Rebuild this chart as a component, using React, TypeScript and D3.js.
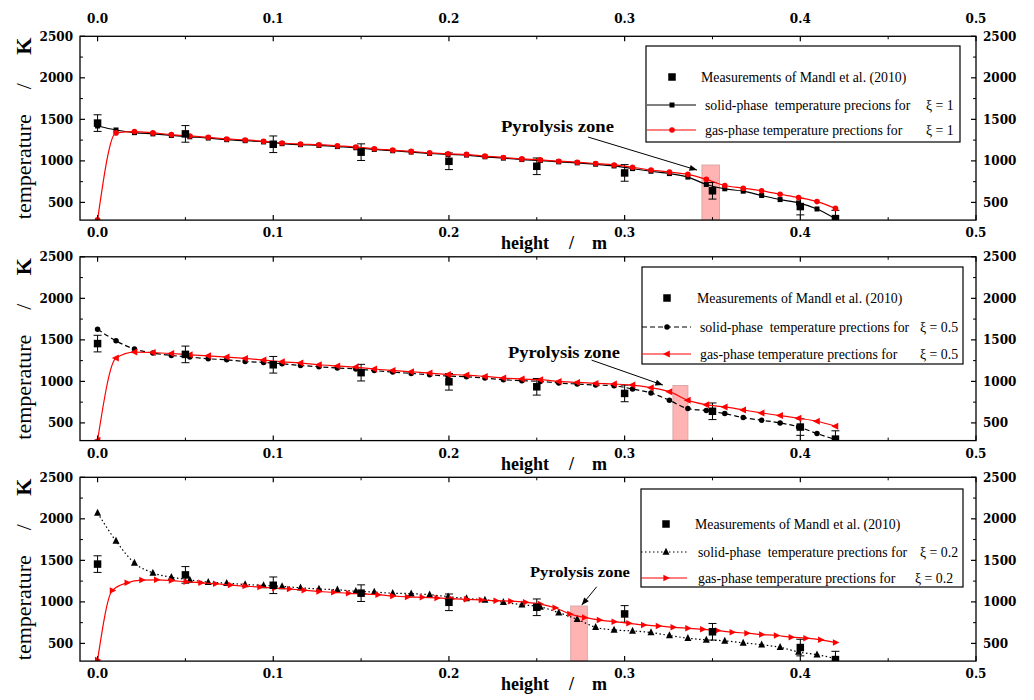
import React from 'react';
import * as d3 from 'd3';

// ---------------- DATA ----------------
// simulation grid for most series (41 points)
const gridA = [0, 0.0105, 0.021, 0.0315, 0.042, 0.0525, 0.063, 0.0735, 0.084, 0.0945, 0.105, 0.1155, 0.126, 0.1365, 0.147, 0.1575, 0.168, 0.1785, 0.189, 0.1995, 0.21, 0.2205, 0.231, 0.2415, 0.252, 0.2625, 0.273, 0.2835, 0.294, 0.3045, 0.315, 0.3255, 0.336, 0.3465, 0.357, 0.3675, 0.378, 0.3885, 0.399, 0.4095, 0.42];
// finer grid for the gas phase of xi = 0.2 (51 points)
const gridB = [0, 0.0084, 0.0168, 0.0252, 0.0336, 0.042, 0.0504, 0.0588, 0.0672, 0.0756, 0.084, 0.0924, 0.1008, 0.1092, 0.1176, 0.126, 0.1344, 0.1428, 0.1512, 0.1596, 0.168, 0.1764, 0.1848, 0.1932, 0.2016, 0.21, 0.2184, 0.2268, 0.2352, 0.2436, 0.252, 0.2604, 0.2688, 0.2772, 0.2856, 0.294, 0.3024, 0.3108, 0.3192, 0.3276, 0.336, 0.3444, 0.3528, 0.3612, 0.3696, 0.378, 0.3864, 0.3948, 0.4032, 0.4116, 0.42];

const measX = [0, 0.05, 0.1, 0.15, 0.2, 0.25, 0.3, 0.35, 0.4, 0.42];
const measT = [1455, 1325, 1200, 1105, 995, 935, 855, 640, 450, 305];
const measErr = [100, 100, 100, 100, 100, 100, 100, 100, 100, 100];

const solidXi1 = [1420, 1372, 1340, 1325, 1306, 1290, 1275, 1255, 1243, 1228, 1207, 1195, 1186, 1172, 1158, 1138, 1122, 1106, 1089, 1077, 1070, 1049, 1033, 1016, 1004, 988, 976, 960, 939, 907, 875, 847, 805, 716, 664, 635, 583, 534, 494, 421, 303];
const gasXi1 = [290, 1337, 1353, 1337, 1316, 1300, 1284, 1264, 1252, 1236, 1215, 1203, 1195, 1181, 1167, 1146, 1130, 1114, 1097, 1085, 1078, 1057, 1041, 1024, 1012, 996, 984, 968, 951, 923, 890, 866, 838, 777, 704, 671, 640, 598, 558, 510, 428];

const solidXi05 = [1629, 1488, 1389, 1341, 1312, 1293, 1272, 1260, 1240, 1228, 1212, 1192, 1176, 1161, 1150, 1130, 1112, 1096, 1080, 1064, 1056, 1040, 1020, 1008, 1000, 980, 968, 956, 948, 908, 860, 772, 672, 648, 612, 564, 532, 500, 452, 372, 300];
const gasXi05 = [290, 1281, 1353, 1348, 1336, 1320, 1308, 1293, 1276, 1257, 1236, 1221, 1200, 1186, 1172, 1149, 1132, 1116, 1100, 1084, 1076, 1060, 1040, 1028, 1020, 1000, 988, 976, 968, 956, 924, 876, 772, 720, 692, 656, 620, 588, 556, 520, 460];

const solidXi02 = [2071, 1733, 1468, 1349, 1297, 1265, 1238, 1226, 1209, 1198, 1186, 1170, 1155, 1146, 1128, 1119, 1104, 1100, 1087, 1063, 1040, 1024, 996, 966, 940, 870, 790, 694, 662, 650, 631, 595, 563, 543, 531, 507, 484, 453, 397, 365, 317];
const gasXi02 = [300, 1138, 1230, 1262, 1265, 1257, 1242, 1230, 1218, 1202, 1190, 1178, 1167, 1155, 1140, 1125, 1115, 1103, 1097, 1087, 1071, 1060, 1055, 1048, 1039, 1031, 1024, 1014, 1008, 996, 974, 929, 855, 813, 781, 762, 742, 722, 710, 694, 682, 670, 655, 635, 623, 607, 595, 575, 563, 543, 510];

const xMajor = [0, 0.1, 0.2, 0.3, 0.4, 0.5];
const xMinor = [0.05, 0.15, 0.25, 0.35, 0.45];
const yMajor = [500, 1000, 1500, 2000, 2500];
const yMinor = [750, 1250, 1750, 2250];

const xiLabels = ['ξ = 1', 'ξ = 0.5', 'ξ = 0.2'];
const solidTexts = ['solid-phase  temperature precions for', 'solid-phase  temperature prections for', 'solid-phase  temperature prections for'];
const gasText = 'gas-phase temperature prections for';
const measText = 'Measurements of Mandl et al. (2010)';
const zoneText = 'Pyrolysis zone';
// pyrolysis zone extents (height, m) and top temperature
const zones = [[0.344, 0.354], [0.3275, 0.336], [0.2693, 0.2788]];
const zoneTop = 950;

// ---------------- LAYOUT ----------------
const W = 1034, H = 700;
const LEFT = 80, RIGHT = 976;
const TOPS = [36.3, 256.8, 477.3];
const PH = 183.8;
const YMIN = 287, YMAX = 2500;

const xScale = d3.scaleLinear().domain([-0.01, 0.5]).range([LEFT, RIGHT]);

type Series = { x: number[]; y: number[]; color: string; dash?: string; marker: string; size: number };

const panels = [
  {
    solid: { x: gridA, y: solidXi1, color: '#000', marker: 'square', size: 5 } as Series,
    gas: { x: gridA, y: gasXi1, color: '#ff0000', marker: 'circle', size: 5.6 } as Series,
    legend: { x0: 646, y0: 46, x1: 960, y1: 142, rows: [77, 105, 130], mx: 672, lx0: 647, lx1: 696, t1: 701, t2: 705, xi: [926, 926] },
    ann: { tx: 0.2296, tT: 1347, tw: 113, fs: 17, a0: [0.2792, 1287], a1: [0.3412, 889] },
  },
  {
    solid: { x: gridA, y: solidXi05, color: '#000', dash: '5,3', marker: 'circle', size: 5.5 } as Series,
    gas: { x: gridA, y: gasXi05, color: '#ff0000', marker: 'triLeft', size: 7 } as Series,
    legend: { x0: 642, y0: 267, x1: 963, y1: 364, rows: [298, 327, 354], mx: 667, lx0: 642, lx1: 691, t1: 697, t2: 700, xi: [920, 920] },
    ann: { tx: 0.2336, tT: 1281, tw: 112, fs: 17, a0: [0.2812, 1256], a1: [0.3218, 955] },
  },
  {
    solid: { x: gridA, y: solidXi02, color: '#000', dash: '1.5,2.5', marker: 'triUp', size: 7 } as Series,
    gas: { x: gridB, y: gasXi02, color: '#ff0000', marker: 'triRight', size: 6.5 } as Series,
    legend: { x0: 641, y0: 489, x1: 963, y1: 587, rows: [524, 552, 578], mx: 666, lx0: 641, lx1: 687, t1: 695, t2: 698, xi: [920, 915] },
    ann: { tx: 0.2461, tT: 1299, tw: 100, fs: 15.5, a0: [0.2841, 1182], a1: [0.2756, 961] },
  },
];

const TICK_FONT = "'DejaVu Serif', serif";
const TEXT_FONT = "'Liberation Serif', 'Times New Roman', serif";

function Marker({ type, x, y, size, fill }: { type: string; x: number; y: number; size: number; fill: string }) {
  const s = size;
  switch (type) {
    case 'square':
      return <rect x={x - s / 2} y={y - s / 2} width={s} height={s} fill={fill} />;
    case 'circle':
      return <circle cx={x} cy={y} r={s / 2} fill={fill} />;
    case 'triUp':
      return <polygon points={`${x},${y - s * 0.6} ${x + s / 2},${y + s * 0.4} ${x - s / 2},${y + s * 0.4}`} fill={fill} />;
    case 'triLeft':
      return <polygon points={`${x - s * 0.6},${y} ${x + s * 0.4},${y - s / 2} ${x + s * 0.4},${y + s / 2}`} fill={fill} />;
    case 'triRight':
      return <polygon points={`${x + s * 0.6},${y} ${x - s * 0.4},${y - s / 2} ${x - s * 0.4},${y + s / 2}`} fill={fill} />;
    default:
      return null;
  }
}

function Panel({ idx }: { idx: number }) {
  const p = panels[idx];
  const top = TOPS[idx];
  const bottom = top + PH;
  const yScale = d3.scaleLinear().domain([YMIN, YMAX]).range([bottom, top]);
  const line = d3
    .line<[number, number]>()
    .x((d) => xScale(d[0]))
    .y((d) => yScale(d[1]))
    .curve(d3.curveMonotoneX);
  const clipId = `clip${idx}`;
  const seriesEls = (s: Series, key: string) => {
    const pts: [number, number][] = s.x.map((xv, i) => [xv, s.y[i]]);
    return (
      <g key={key}>
        <path d={line(pts) || ''} fill="none" stroke={s.color} strokeWidth={1.2} strokeDasharray={s.dash} />
        {pts.map((d, i) => (
          <Marker key={i} type={s.marker} x={xScale(d[0])} y={yScale(d[1])} size={s.size} fill={s.color} />
        ))}
      </g>
    );
  };
  const z = zones[idx];
  const a = p.ann;
  const L = p.legend;
  const yLabelMid = top + PH / 2;
  return (
    <g>
      <defs>
        <clipPath id={clipId}>
          <rect x={LEFT} y={top} width={RIGHT - LEFT} height={PH} />
        </clipPath>
      </defs>
      <g clipPath={`url(#${clipId})`}>
        <rect
          x={xScale(z[0])}
          y={yScale(zoneTop)}
          width={xScale(z[1]) - xScale(z[0])}
          height={bottom - yScale(zoneTop)}
          fill="#ffb3b3"
          stroke="#d9a9a9"
          strokeWidth={1}
        />
        {/* measurements with error bars */}
        {measX.map((xv, i) => {
          const cx = xScale(xv);
          const y0 = yScale(measT[i] - measErr[i]);
          const y1 = yScale(measT[i] + measErr[i]);
          return (
            <g key={'m' + i}>
              <line x1={cx} x2={cx} y1={y0} y2={y1} stroke="#000" strokeWidth={1} />
              <line x1={cx - 4} x2={cx + 4} y1={y0} y2={y0} stroke="#000" strokeWidth={1} />
              <line x1={cx - 4} x2={cx + 4} y1={y1} y2={y1} stroke="#000" strokeWidth={1} />
            </g>
          );
        })}
        {seriesEls(p.solid, 'solid')}
        {seriesEls(p.gas, 'gas')}
        {measX.map((xv, i) => (
          <Marker key={'ms' + i} type="square" x={xScale(xv)} y={yScale(measT[i])} size={7.5} fill="#000" />
        ))}
      </g>

      {/* annotation */}
      <text
        x={xScale(a.tx)}
        y={yScale(a.tT)}
        fontFamily={TEXT_FONT}
        fontWeight="bold"
        fontSize={a.fs}
        textLength={a.tw}
        lengthAdjust="spacingAndGlyphs"
      >
        {zoneText}
      </text>
      <line
        x1={xScale(a.a0[0])}
        y1={yScale(a.a0[1])}
        x2={xScale(a.a1[0])}
        y2={yScale(a.a1[1])}
        stroke="#000"
        strokeWidth={1}
        markerEnd="url(#arrow)"
      />

      {/* frame */}
      <rect x={LEFT} y={top} width={RIGHT - LEFT} height={PH} fill="none" stroke="#000" strokeWidth={1.3} />
      {/* x ticks */}
      {xMajor.map((v) => (
        <g key={'xM' + v}>
          <line x1={xScale(v)} x2={xScale(v)} y1={bottom} y2={bottom - 5} stroke="#000" strokeWidth={1.2} />
          <line x1={xScale(v)} x2={xScale(v)} y1={top} y2={top + 5} stroke="#000" strokeWidth={1.2} />
          <text x={xScale(v)} y={bottom + 17} textAnchor="middle" fontFamily={TICK_FONT} fontWeight="bold" fontSize={12}>
            {v.toFixed(1)}
          </text>
          {idx === 0 && (
            <text x={xScale(v)} y={top - 13} textAnchor="middle" fontFamily={TICK_FONT} fontWeight="bold" fontSize={12}>
              {v.toFixed(1)}
            </text>
          )}
        </g>
      ))}
      {xMinor.map((v) => (
        <g key={'xm' + v}>
          <line x1={xScale(v)} x2={xScale(v)} y1={bottom} y2={bottom - 3} stroke="#000" strokeWidth={1} />
          <line x1={xScale(v)} x2={xScale(v)} y1={top} y2={top + 3} stroke="#000" strokeWidth={1} />
        </g>
      ))}
      {/* y ticks */}
      {yMajor.map((v) => (
        <g key={'yM' + v}>
          <line x1={LEFT} x2={LEFT + 5} y1={yScale(v)} y2={yScale(v)} stroke="#000" strokeWidth={1.2} />
          <line x1={RIGHT} x2={RIGHT - 5} y1={yScale(v)} y2={yScale(v)} stroke="#000" strokeWidth={1.2} />
          <text x={LEFT - 7} y={yScale(v) + 4.5} textAnchor="end" fontFamily={TICK_FONT} fontWeight="bold" fontSize={12}>
            {v}
          </text>
          <text x={RIGHT + 7} y={yScale(v) + 4.5} textAnchor="start" fontFamily={TICK_FONT} fontWeight="bold" fontSize={12}>
            {v}
          </text>
        </g>
      ))}
      {yMinor.map((v) => (
        <g key={'ym' + v}>
          <line x1={LEFT} x2={LEFT + 3} y1={yScale(v)} y2={yScale(v)} stroke="#000" strokeWidth={1} />
          <line x1={RIGHT} x2={RIGHT - 3} y1={yScale(v)} y2={yScale(v)} stroke="#000" strokeWidth={1} />
        </g>
      ))}

      {/* axis titles */}
      <g transform={`translate(31, ${yLabelMid}) rotate(-90)`}>
        <text x={-91} y={0} fontFamily={TEXT_FONT} fontSize={22}>
          temperature
        </text>
        <text x={42} y={0} textAnchor="middle" fontFamily={TEXT_FONT} fontSize={22}>
          /
        </text>
        <text x={82} y={0} textAnchor="middle" fontFamily={TEXT_FONT} fontWeight="bold" fontSize={22}>
          K
        </text>
      </g>
      <text x={501} y={bottom + 29} fontFamily={TEXT_FONT} fontWeight="bold" fontSize={18}>
        height
      </text>
      <text x={571.5} y={bottom + 29} textAnchor="middle" fontFamily={TEXT_FONT} fontWeight="bold" fontSize={18}>
        /
      </text>
      <text x={592} y={bottom + 29} fontFamily={TEXT_FONT} fontWeight="bold" fontSize={18}>
        m
      </text>

      {/* legend */}
      <rect x={L.x0} y={L.y0} width={L.x1 - L.x0} height={L.y1 - L.y0} fill="#fff" stroke="#000" strokeWidth={1.2} />
      <Marker type="square" x={L.mx} y={L.rows[0]} size={7.5} fill="#000" />
      <text x={L.t1} y={L.rows[0] + 4.5} fontFamily={TEXT_FONT} fontSize={13.8}>
        {measText}
      </text>
      <line x1={L.lx0} x2={L.lx1} y1={L.rows[1]} y2={L.rows[1]} stroke="#000" strokeWidth={1.2} strokeDasharray={p.solid.dash} />
      <Marker type={p.solid.marker} x={L.mx} y={L.rows[1]} size={p.solid.size} fill="#000" />
      <text x={L.t2} y={L.rows[1] + 4.5} fontFamily={TEXT_FONT} fontSize={13.8} style={{ whiteSpace: 'pre' }}>
        {solidTexts[idx]}
      </text>
      <text x={L.xi[0]} y={L.rows[1] + 4.5} fontFamily={TEXT_FONT} fontSize={13.8}>
        {xiLabels[idx]}
      </text>
      <line x1={L.lx0} x2={L.lx1} y1={L.rows[2]} y2={L.rows[2]} stroke="#ff0000" strokeWidth={1.2} />
      <Marker type={p.gas.marker} x={L.mx} y={L.rows[2]} size={p.gas.size} fill="#ff0000" />
      <text x={L.t2} y={L.rows[2] + 4.5} fontFamily={TEXT_FONT} fontSize={13.8}>
        {gasText}
      </text>
      <text x={L.xi[1]} y={L.rows[2] + 4.5} fontFamily={TEXT_FONT} fontSize={13.8}>
        {xiLabels[idx]}
      </text>
    </g>
  );
}

export default function App() {
  return (
    <svg width={W} height={H} style={{ position: 'absolute', left: 0, top: 0, background: '#fff' }}>
      <defs>
        <marker id="arrow" viewBox="0 0 10 8" refX="10" refY="4" markerWidth="9" markerHeight="6" markerUnits="userSpaceOnUse" orient="auto">
          <path d="M0,0 L10,4 L0,8 Z" fill="#000" />
        </marker>
      </defs>
      <rect width={W} height={H} fill="#fff" />
      {panels.map((_, i) => (
        <Panel key={i} idx={i} />
      ))}
    </svg>
  );
}
